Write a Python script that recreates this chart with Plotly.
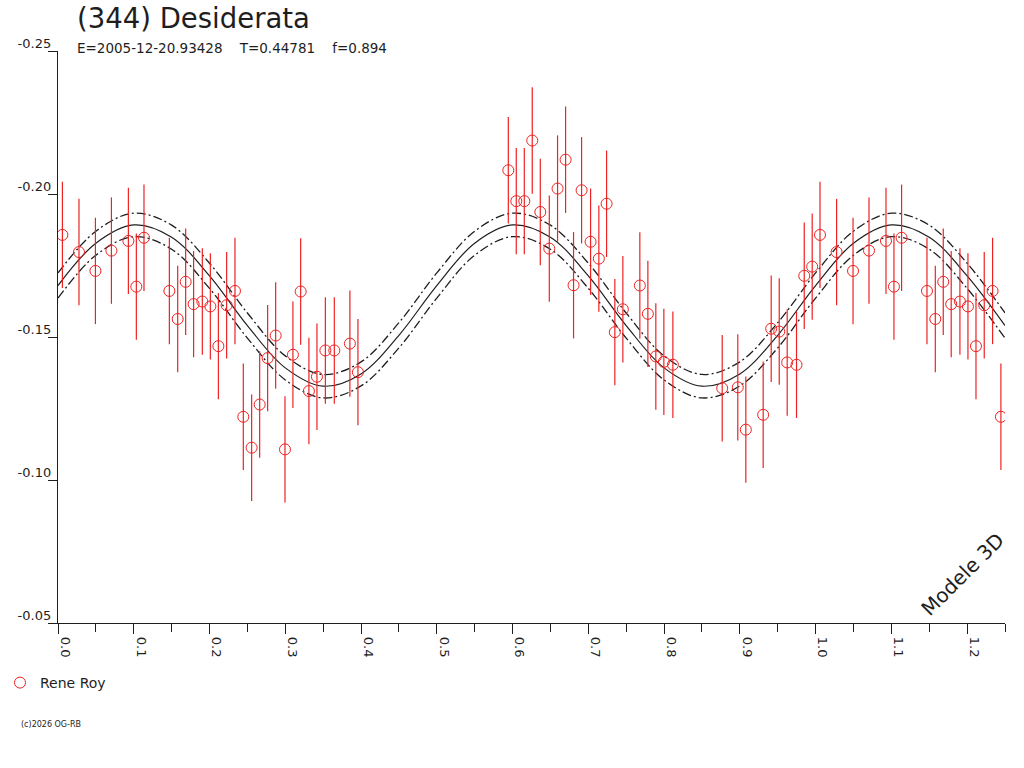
import plotly.graph_objects as go

# phase / reduced magnitude / error, one entry per observation (Rene Roy)
phase = [0.0058, 0.0277, 0.0494, 0.0705, 0.0929, 0.1034, 0.1135, 0.1470, 0.1580, 0.1685,
         0.1790, 0.1905, 0.2011, 0.2117, 0.2226, 0.2336, 0.2446, 0.2556, 0.2662, 0.2767,
         0.2873, 0.2996, 0.3101, 0.3203, 0.3312, 0.3418, 0.3529, 0.3647, 0.3853, 0.3959,
         0.5944, 0.6049, 0.6155, 0.6260, 0.6366, 0.6485, 0.6594, 0.6700, 0.6805, 0.6911,
         0.7030, 0.7139, 0.7241, 0.7350, 0.7456, 0.7680, 0.7786, 0.7891, 0.7997, 0.8116,
         0.8767, 0.8973, 0.9079, 0.9308, 0.9414, 0.9520, 0.9625, 0.9748, 0.9850, 0.9955]
mag = [-0.1857, -0.1797, -0.1731, -0.1802, -0.1836, -0.1676, -0.1847, -0.1661, -0.1563, -0.1693,
       -0.1615, -0.1624, -0.1607, -0.1468, -0.1611, -0.1661, -0.1221, -0.1113, -0.1264, -0.1426,
       -0.1505, -0.1107, -0.1438, -0.1659, -0.1311, -0.1361, -0.1453, -0.1453, -0.1477, -0.1377,
       -0.2083, -0.1975, -0.1975, -0.2187, -0.1937, -0.1809, -0.2019, -0.2120, -0.1681, -0.2013,
       -0.1833, -0.1774, -0.1966, -0.1517, -0.1597, -0.1680, -0.1581, -0.1432, -0.1413, -0.1403,
       -0.1321, -0.1324, -0.1176, -0.1228, -0.1529, -0.1519, -0.1411, -0.1403, -0.1714, -0.1746]
err = [0.0186] * len(phase)

# model 3D curve and its envelope
model_phase = [0.00, 0.05, 0.10, 0.15, 0.20, 0.25, 0.30, 0.35, 0.40, 0.45, 0.50, 0.55, 0.60,
               0.65, 0.70, 0.75, 0.80, 0.85, 0.90, 0.95, 1.00, 1.05, 1.10, 1.15, 1.20, 1.25]
model_mag = [-0.1680, -0.1828, -0.1892, -0.1849, -0.1714, -0.1540, -0.1392, -0.1328, -0.1371,
             -0.1506, -0.1680, -0.1828, -0.1892, -0.1849, -0.1714, -0.1540, -0.1392, -0.1328,
             -0.1371, -0.1506, -0.1680, -0.1828, -0.1892, -0.1849, -0.1714, -0.1540]
model_upper = [-0.1724, -0.1870, -0.1933, -0.1891, -0.1758, -0.1584, -0.1434, -0.1369, -0.1413,
               -0.1550, -0.1724, -0.1870, -0.1933, -0.1891, -0.1758, -0.1584, -0.1434, -0.1369,
               -0.1413, -0.1550, -0.1724, -0.1870, -0.1933, -0.1891, -0.1758, -0.1584]
model_lower = [-0.1636, -0.1786, -0.1851, -0.1807, -0.1670, -0.1496, -0.1350, -0.1287, -0.1329,
               -0.1462, -0.1636, -0.1786, -0.1851, -0.1807, -0.1670, -0.1496, -0.1350, -0.1287,
               -0.1329, -0.1462, -0.1636, -0.1786, -0.1851, -0.1807, -0.1670, -0.1496]

x_tick_vals = [0.0, 0.1, 0.2, 0.3, 0.4, 0.5, 0.6, 0.7, 0.8, 0.9, 1.0, 1.1, 1.2]
x_tick_text = ["0.0", "0.1", "0.2", "0.3", "0.4", "0.5", "0.6", "0.7", "0.8", "0.9", "1.0", "1.1", "1.2"]
y_tick_vals = [-0.25, -0.20, -0.15, -0.10, -0.05]
y_tick_text = ["-0.25", "-0.20", "-0.15", "-0.10", "-0.05"]

title = "(344) Desiderata"
subtitle = "E=2005-12-20.93428    T=0.44781    f=0.894"
observer = "Rene Roy"

RED = "#ee2222"
INK = "#1e1e1e"
FONT = "DejaVu Sans"

# the phase range goes past 1, so the first quarter is shown again
x_all, y_all, e_all = [], [], []
for p, m, e in zip(phase, mag, err):
    x_all.append(p)
    y_all.append(m)
    e_all.append(e)
for p, m, e in zip(phase, mag, err):
    if p + 1 <= 1.25:
        x_all.append(p + 1)
        y_all.append(m)
        e_all.append(e)

fig = go.Figure()

for ys in (model_upper, model_lower):
    fig.add_trace(go.Scatter(x=model_phase, y=ys, mode="lines", showlegend=False, hoverinfo="skip",
                             line=dict(color=INK, width=1.3, dash="9px,3px,2px,3px", shape="spline")))
fig.add_trace(go.Scatter(x=model_phase, y=model_mag, mode="lines", showlegend=False, hoverinfo="skip",
                         line=dict(color=INK, width=1.2, shape="spline")))

fig.add_trace(go.Scatter(
    x=x_all, y=y_all, mode="markers", name=observer,
    marker=dict(symbol="circle-open", size=11, color=RED, line=dict(width=1, color=RED)),
    error_y=dict(type="data", array=e_all, color=RED, thickness=1.2, width=0),
))

fig.update_xaxes(
    range=[0, 1.25], tickvals=x_tick_vals, ticktext=x_tick_text, tickangle=90,
    ticks="outside", ticklen=10, tickcolor=INK, ticklabelshift=7,
    minor=dict(tickvals=[0.05, 0.15, 0.25, 0.35, 0.45, 0.55, 0.65, 0.75, 0.85, 0.95, 1.05, 1.15, 1.25],
               ticks="outside", ticklen=8, tickcolor=INK),
    showline=True, linecolor=INK, linewidth=1.3, showgrid=False, zeroline=False,
    tickfont=dict(family=FONT, size=13, color=INK),
)
fig.update_yaxes(
    range=[-0.05, -0.25], tickvals=y_tick_vals, ticktext=y_tick_text,
    ticks="outside", ticklen=9, tickcolor=INK, ticklabelshift=8, ticklabelstandoff=-6,
    showline=True, linecolor=INK, linewidth=1.3, showgrid=False, zeroline=False,
    tickfont=dict(family=FONT, size=13, color=INK),
)

fig.add_annotation(text=subtitle, xref="paper", yref="paper", x=0.0176, y=1.006,
                   xanchor="left", yanchor="middle", showarrow=False,
                   font=dict(family=FONT, size=13.5, color=INK))
fig.add_annotation(text="Modele 3D", xref="paper", yref="paper", x=0.9556, y=0.0857,
                   xanchor="center", yanchor="middle",
                   textangle=-45, showarrow=False, font=dict(family=FONT, size=20, color=INK))
fig.add_annotation(text="(c)2026 OG-RB", xref="paper", yref="paper", x=-0.0415, y=-0.1766,
                   xanchor="left", yanchor="middle", showarrow=False,
                   font=dict(family=FONT, size=8, color=INK))

fig.update_layout(
    width=1024, height=768,
    margin=dict(l=58, r=19, t=51, b=145, autoexpand=False),
    paper_bgcolor="white", plot_bgcolor="white",
    title=dict(text=title, x=77 / 1024, xanchor="left", xref="container",
               y=1 - 18 / 768, yanchor="middle", yref="container",
               font=dict(family=FONT, size=27.5, color=INK)),
    showlegend=True,
    legend=dict(x=0.0, y=1 - 683 / 768, xref="container", yref="container",
                xanchor="left", yanchor="middle", itemwidth=30,
                font=dict(family=FONT, size=14, color=INK), bgcolor="rgba(0,0,0,0)"),
    font=dict(family=FONT, color=INK),
)

# drop the default page margin so the figure sits at the top-left corner
fig.write_html("out.html", config={"displayModeBar": False},
               post_script="document.body.style.margin = '0';")
